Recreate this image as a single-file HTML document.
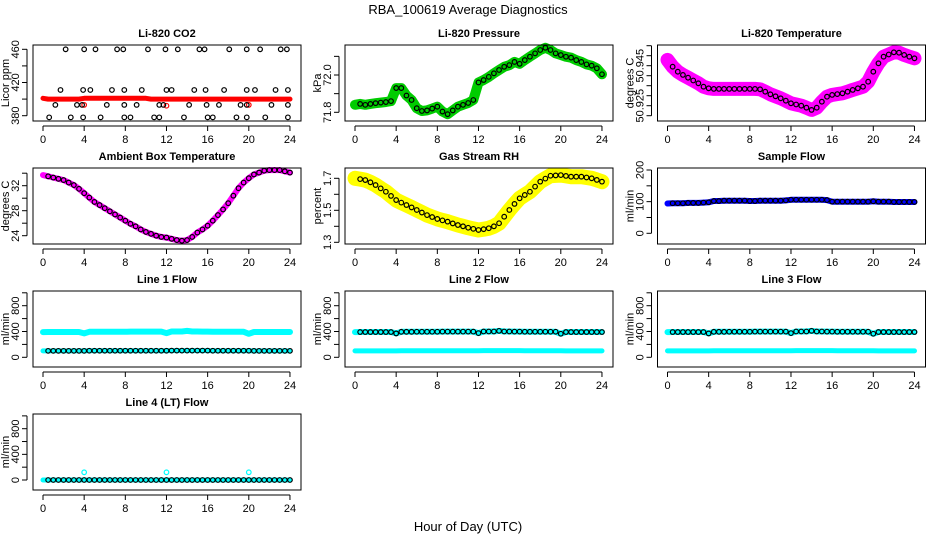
<!DOCTYPE html>
<html><head><meta charset="utf-8">
<style>
html,body{margin:0;padding:0;background:#fff;}
svg{display:block;font-family:"Liberation Sans",Arial,sans-serif;}
</style></head>
<body>
<svg id="chart" width="936" height="540" viewBox="0 0 936 540">
<text x="468" y="14" text-anchor="middle" font-size="13">RBA_100619  Average Diagnostics</text>
<text x="468" y="531" text-anchor="middle" font-size="13">Hour of Day (UTC)</text>
</svg>
<script>
// half-hour grid values (t = 0, 0.5, ..., 24)
const co2Band = [401,400,400,400,400,400,400,400,401,401,401,401,401,401,401,401,401,401,401,401,401,400,400,400,400,400,400,400,400,400,400,400,400,400,400,400,400,400,400,400,400,400,400,400,400,400,400,400,400];
const co2OutT = [4,12,20];
const co2OutV = [393,392,393];
const co2BlackT = [2.2,4.0,5.1,7.2,7.8,10.2,11.9,13.1,15.2,15.7,18.1,19.8,21.1,23.1,23.7,
  1.7,3.9,4.6,6.7,7.9,9.6,12.0,12.5,14.7,15.8,17.6,19.8,20.6,22.6,23.8,
  1.2,3.3,3.8,6.2,7.9,9.1,11.3,11.7,14.2,15.9,17.1,19.2,19.8,22.2,23.8,
  0.6,2.7,3.9,5.6,7.9,8.5,10.8,11.3,13.7,16.0,16.5,18.8,19.8,21.6,23.8];
const co2BlackV = [460,460,460,460,460,460,460,460,460,460,460,460,460,460,460,
  411,411,411,411,411,411,411,411,411,411,411,411,411,411,411,
  393,393,393,393,393,393,393,393,393,393,393,393,393,393,393,
  378,378,378,378,378,378,378,378,378,378,378,378,378,378,378];
const pressBand = [71.84,71.845,71.84,71.845,71.849,71.852,71.855,71.86,71.93,71.93,71.89,71.866,71.822,71.807,71.81,71.82,71.83,71.804,71.79,71.81,71.83,71.84,71.85,71.866,71.96,71.973,71.99,72.009,72.027,72.044,72.053,72.07,72.06,72.08,72.098,72.116,72.134,72.146,72.134,72.116,72.107,72.098,72.093,72.08,72.07,72.057,72.05,72.036,72.004];
const tempBand = [50.9479,50.9445,50.942,50.9404,50.939,50.9376,50.9362,50.9345,50.9337,50.9334,50.9334,50.9334,50.9334,50.9334,50.9334,50.9334,50.9334,50.9334,50.9332,50.932,50.9307,50.9297,50.9287,50.9275,50.9262,50.9256,50.925,50.924,50.9229,50.924,50.927,50.9295,50.9304,50.9308,50.9312,50.932,50.9329,50.9337,50.9345,50.937,50.942,50.9462,50.9495,50.9506,50.9517,50.9515,50.9504,50.9495,50.9487];
const ambBand = [33.7,33.5,33.3,33.1,32.9,32.5,32.1,31.5,30.8,30.1,29.4,28.9,28.4,27.9,27.4,26.9,26.4,25.9,25.5,25.0,24.6,24.3,24.0,23.8,23.7,23.5,23.3,23.2,23.3,23.8,24.5,25.0,25.6,26.4,27.3,28.2,29.2,30.4,31.6,32.5,33.2,33.8,34.1,34.4,34.5,34.5,34.5,34.3,34.1];
const rhBand = [1.70,1.695,1.689,1.675,1.658,1.637,1.616,1.59,1.564,1.548,1.533,1.518,1.502,1.486,1.47,1.458,1.446,1.437,1.429,1.418,1.408,1.40,1.391,1.384,1.377,1.382,1.388,1.40,1.419,1.46,1.502,1.54,1.575,1.596,1.616,1.648,1.679,1.698,1.716,1.718,1.72,1.715,1.71,1.71,1.71,1.705,1.70,1.69,1.679];
const sampleBand = [94,95,95,95,96,96,96,97,98,102,102,103,103,103,103,103,102,102,103,103,103,103,103,104,106,106,106,106,106,106,106,105,100,100,100,100,100,100,100,100,101,100,100,100,99,99,99,99,99];
const flowHigh = [390,392,392,392,392,392,392,392,370,395,395,395,396,396,396,396,396,398,398,398,398,398,398,398,375,400,400,400,410,400,400,398,398,396,396,396,396,396,396,396,365,392,392,392,392,392,392,392,392];
const flowLow = [100,100,100,100,100,100,100,100,100,102,102,102,102,102,102,102,102,102,102,102,102,102,102,102,102,104,104,104,104,104,104,104,104,102,102,102,102,102,102,102,102,100,100,100,100,100,100,100,100];
const flowZero = [0,0,0,0,0,0,0,0,0,0,0,0,0,0,0,0,0,0,0,0,0,0,0,0,0,0,0,0,0,0,0,0,0,0,0,0,0,0,0,0,0,0,0,0,0,0,0,0,0];
const line4OutT = [4,12,20];
const line4OutV = [120,120,120];
const xTicks = [0,4,8,12,16,20,24];

const NS = "http://www.w3.org/2000/svg";
const svg = document.getElementById("chart");
function mk(tag, attrs, parent){
  const e = document.createElementNS(NS, tag);
  for (const k in attrs) e.setAttribute(k, attrs[k]);
  (parent||svg).appendChild(e);
  return e;
}
const COLS = [33, 345, 657.5];
const ROWS = [45, 168, 291, 414];
const W = 268, H = 76;

function panel(p){
  const L = COLS[p.col], T = ROWS[p.row];
  const g = mk("g", {});
  
  
  const xs = t => L + 10 + t * 10.29;
  const ys = v => T + p.r1[1] + (v - p.r1[0]) * (p.r2[1] - p.r1[1]) / (p.r2[0] - p.r1[0]);
  const title = mk("text", {x: L + W/2, y: T - 8, "text-anchor": "middle", "font-size": 11, "font-weight": "bold"}, g);
  title.textContent = p.title;
  
  
  const yt = mk("text", {transform: `translate(${L-24},${T+H/2}) rotate(-90)`, "text-anchor": "middle", "font-size": 11}, g);
  yt.textContent = p.ylab;
  
  
  const yl = mk("line", {x1: L-6, x2: L-6, y1: ys(p.yticks[0]), y2: ys(p.yticks[p.yticks.length-1]), stroke: "#000"}, g);
  
  
  p.yticks.forEach(v => {
    const tk = mk("line", {x1: L-11, x2: L-6, y1: ys(v), y2: ys(v), stroke: "#000"}, g);
    
    
  });
  p.ylabels.forEach(v => {
    const tl = mk("text", {transform: `translate(${L-14},${ys(v)}) rotate(-90)`, "text-anchor": "middle", "font-size": 11}, g);
    tl.textContent = String(v);
    
    
  });
  const xl = mk("line", {x1: xs(0), x2: xs(24), y1: T+H+5, y2: T+H+5, stroke: "#000"}, g);
  
  
  xTicks.forEach(t => {
    const tk = mk("line", {x1: xs(t), x2: xs(t), y1: T+H+5, y2: T+H+10, stroke: "#000"}, g);
    
    
    const tl = mk("text", {x: xs(t), y: T+H+22, "text-anchor": "middle", "font-size": 11}, g);
    tl.textContent = String(t);
    
    
  });
  p.series.forEach(s => {
    if (s.band) {
      const pts = s.vals.map((v,i) => xs(i*0.5).toFixed(1) + "," + ys(v).toFixed(1)).join(" ");
      const pl = mk("polyline", {points: pts, fill: "none", stroke: s.color, "stroke-width": s.w, "stroke-linejoin": "round", "stroke-linecap": "round"}, g);
      
      
    }
    if (s.pts) {
      const T2 = s.times || s.vals.map((v,i) => i*0.5);
      s.vals.forEach((v,i) => {
        if (s.skipFirst && i === 0) return;
        const c = mk("circle", {cx: xs(T2[i]), cy: ys(v), r: 2.3, fill: "none", stroke: s.pcolor, "stroke-width": 1.2}, g);
        
        
      });
    }
  });
  const box = mk("rect", {x: L, y: T, width: W, height: H, fill: "none", stroke: "#000"}, g);
  
  
}

panel({name:"co2", col:0, row:0, title:"Li-820 CO2", ylab:"Licor ppm", r1:[380,70.7], r2:[460,4.3],
  yticks:[380,400,420,440,460], ylabels:[380,420,460],
  series:[
    {name:"co2-band", band:true, vals:co2Band, color:"#ff0000", w:5},
    {name:"co2-outlier", pts:true, times:co2OutT, vals:co2OutV, pcolor:"#ff0000"},
    {name:"co2-avg", pts:true, times:co2BlackT, vals:co2BlackV, pcolor:"#000"}]});
panel({name:"pressure", col:1, row:0, title:"Li-820 Pressure", ylab:"kPa", r1:[71.8,67.3], r2:[72.0,30],
  yticks:[71.8,71.9,72.0,72.1], ylabels:["71.8","72.0"],
  series:[
    {name:"pressure-band", band:true, vals:pressBand, color:"#00cc00", w:10},
    {name:"pressure-avg", pts:true, vals:pressBand, pcolor:"#000", skipFirst:true}]});
panel({name:"temperature", col:2, row:0, title:"Li-820 Temperature", ylab:"degrees C", r1:[50.925,60.7], r2:[50.945,20.7],
  yticks:[50.92,50.925,50.93,50.935,50.94,50.945,50.95,50.955], ylabels:["50.925","50.945"],
  series:[
    {name:"temperature-band", band:true, vals:tempBand, color:"#ff00ff", w:14},
    {name:"temperature-avg", pts:true, vals:tempBand, pcolor:"#000", skipFirst:true}]});
panel({name:"ambient", col:0, row:1, title:"Ambient Box Temperature", ylab:"degrees C", r1:[24,67.7], r2:[32,17.7],
  yticks:[24,26,28,30,32,34], ylabels:[24,28,32],
  series:[
    {name:"ambient-band", band:true, vals:ambBand, color:"#ff00ff", w:6},
    {name:"ambient-avg", pts:true, vals:ambBand, pcolor:"#000", skipFirst:true}]});
panel({name:"rh", col:1, row:1, title:"Gas Stream RH", ylab:"percent", r1:[1.3,74.3], r2:[1.7,10.3],
  yticks:[1.3,1.4,1.5,1.6,1.7], ylabels:["1.3","1.5","1.7"],
  series:[
    {name:"rh-band", band:true, vals:rhBand, color:"#ffff00", w:15},
    {name:"rh-avg", pts:true, vals:rhBand, pcolor:"#000", skipFirst:true}]});
panel({name:"sample-flow", col:2, row:1, title:"Sample Flow", ylab:"ml/min", r1:[0,65.3], r2:[200,2],
  yticks:[0,50,100,150,200], ylabels:[0,100,200],
  series:[
    {name:"sample-band", band:true, vals:sampleBand, color:"#0000ff", w:6},
    {name:"sample-avg", pts:true, vals:sampleBand, pcolor:"#000", skipFirst:true}]});
const flowTicks = [0,200,400,600,800,1000], flowLabels = [0,400,800];
panel({name:"line1", col:0, row:2, title:"Line 1 Flow", ylab:"ml/min", r1:[0,66.3], r2:[800,14.7],
  yticks:flowTicks, ylabels:flowLabels,
  series:[
    {name:"line1-high", band:true, vals:flowHigh, color:"#00ffff", w:6},
    {name:"line1-low", band:true, vals:flowLow, color:"#00ffff", w:5},
    {name:"line1-avg", pts:true, vals:flowLow, pcolor:"#000", skipFirst:true}]});
panel({name:"line2", col:1, row:2, title:"Line 2 Flow", ylab:"ml/min", r1:[0,66.3], r2:[800,14.7],
  yticks:flowTicks, ylabels:flowLabels,
  series:[
    {name:"line2-high", band:true, vals:flowHigh, color:"#00ffff", w:6},
    {name:"line2-low", band:true, vals:flowLow, color:"#00ffff", w:5},
    {name:"line2-avg", pts:true, vals:flowHigh, pcolor:"#000", skipFirst:true}]});
panel({name:"line3", col:2, row:2, title:"Line 3 Flow", ylab:"ml/min", r1:[0,66.3], r2:[800,14.7],
  yticks:flowTicks, ylabels:flowLabels,
  series:[
    {name:"line3-high", band:true, vals:flowHigh, color:"#00ffff", w:6},
    {name:"line3-low", band:true, vals:flowLow, color:"#00ffff", w:5},
    {name:"line3-avg", pts:true, vals:flowHigh, pcolor:"#000", skipFirst:true}]});
panel({name:"line4", col:0, row:3, title:"Line 4 (LT) Flow", ylab:"ml/min", r1:[0,66], r2:[800,14.7],
  yticks:flowTicks, ylabels:flowLabels,
  series:[
    {name:"line4-band", band:true, vals:flowZero, color:"#00ffff", w:5},
    {name:"line4-outlier", pts:true, times:line4OutT, vals:line4OutV, pcolor:"#00ffff"},
    {name:"line4-avg", pts:true, vals:flowZero, pcolor:"#000", skipFirst:true}]});
</script>
</body></html>
